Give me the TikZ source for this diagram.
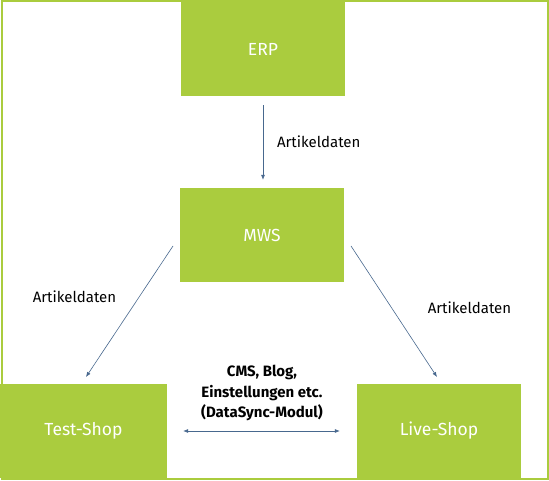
\documentclass[tikz,border=0pt]{standalone}
\usepackage{fontspec}
\setmainfont{Fira Sans}
\usetikzlibrary{arrows.meta}
\usetikzlibrary{positioning}
\definecolor{boxgreen}{RGB}{170,204,62}
\definecolor{arrowblue}{RGB}{72,104,142}

\begin{document}
\begin{tikzpicture}[
	x=1pt, y=1pt,
	font=\fontsize{15}{18}\selectfont
]
\tikzset{
    sysbox/.style = {rectangle, fill=boxgreen, text=white, align=center, minimum width=164pt, minimum height=94pt, inner sep=0pt, font=\fontsize{17.5}{20}\selectfont},
    flow/.style = {draw=arrowblue, line width=0.6pt, -{Latex[length=5pt,width=4pt]}},
    both/.style = {draw=arrowblue, line width=0.6pt, {Latex[length=5pt,width=4pt]}-{Latex[length=5pt,width=4pt]}}
}
\useasboundingbox (0,0) rectangle (549,481);
\draw[boxgreen, line width=2pt] (1.5,1.5) rectangle (547.5,479.5);
\node[sysbox] (erp) at (263,432) {ERP};
\node[sysbox] (mws) at (262,246) {MWS};
\node[sysbox,minimum width=167pt] (test) at (83.5,50) {Test-Shop};
\node[sysbox] (live) at (439,50) {Live-Shop};
\coordinate (mwsl) at (173,235);
\coordinate (mwsr) at (351,235);
\coordinate (testin) at (86,104);
\coordinate (livein) at (437,104);
\draw[flow, shorten <=9pt, shorten >=8pt] (erp.south) -- (erp.south |- mws.north);
\draw[flow] (mwsl) -- (testin);
\draw[flow] (mwsr) -- (livein);
\draw[both, shorten <=16pt, shorten >=17pt] (test.east) -- (live.west);
\node[anchor=west] (lbltop) at (273.5,339) {Artikeldaten};
\node (lblleft) at (74.5,184) {Artikeldaten};
\node (lblright) at (469.5,173) {Artikeldaten};
\node[font=\fontsize{15}{20.5}\selectfont\bfseries, align=center] (sync) at (262,88) {CMS, Blog,\\Einstellungen etc.\\(DataSync-Modul)};
\end{tikzpicture}
\end{document}
